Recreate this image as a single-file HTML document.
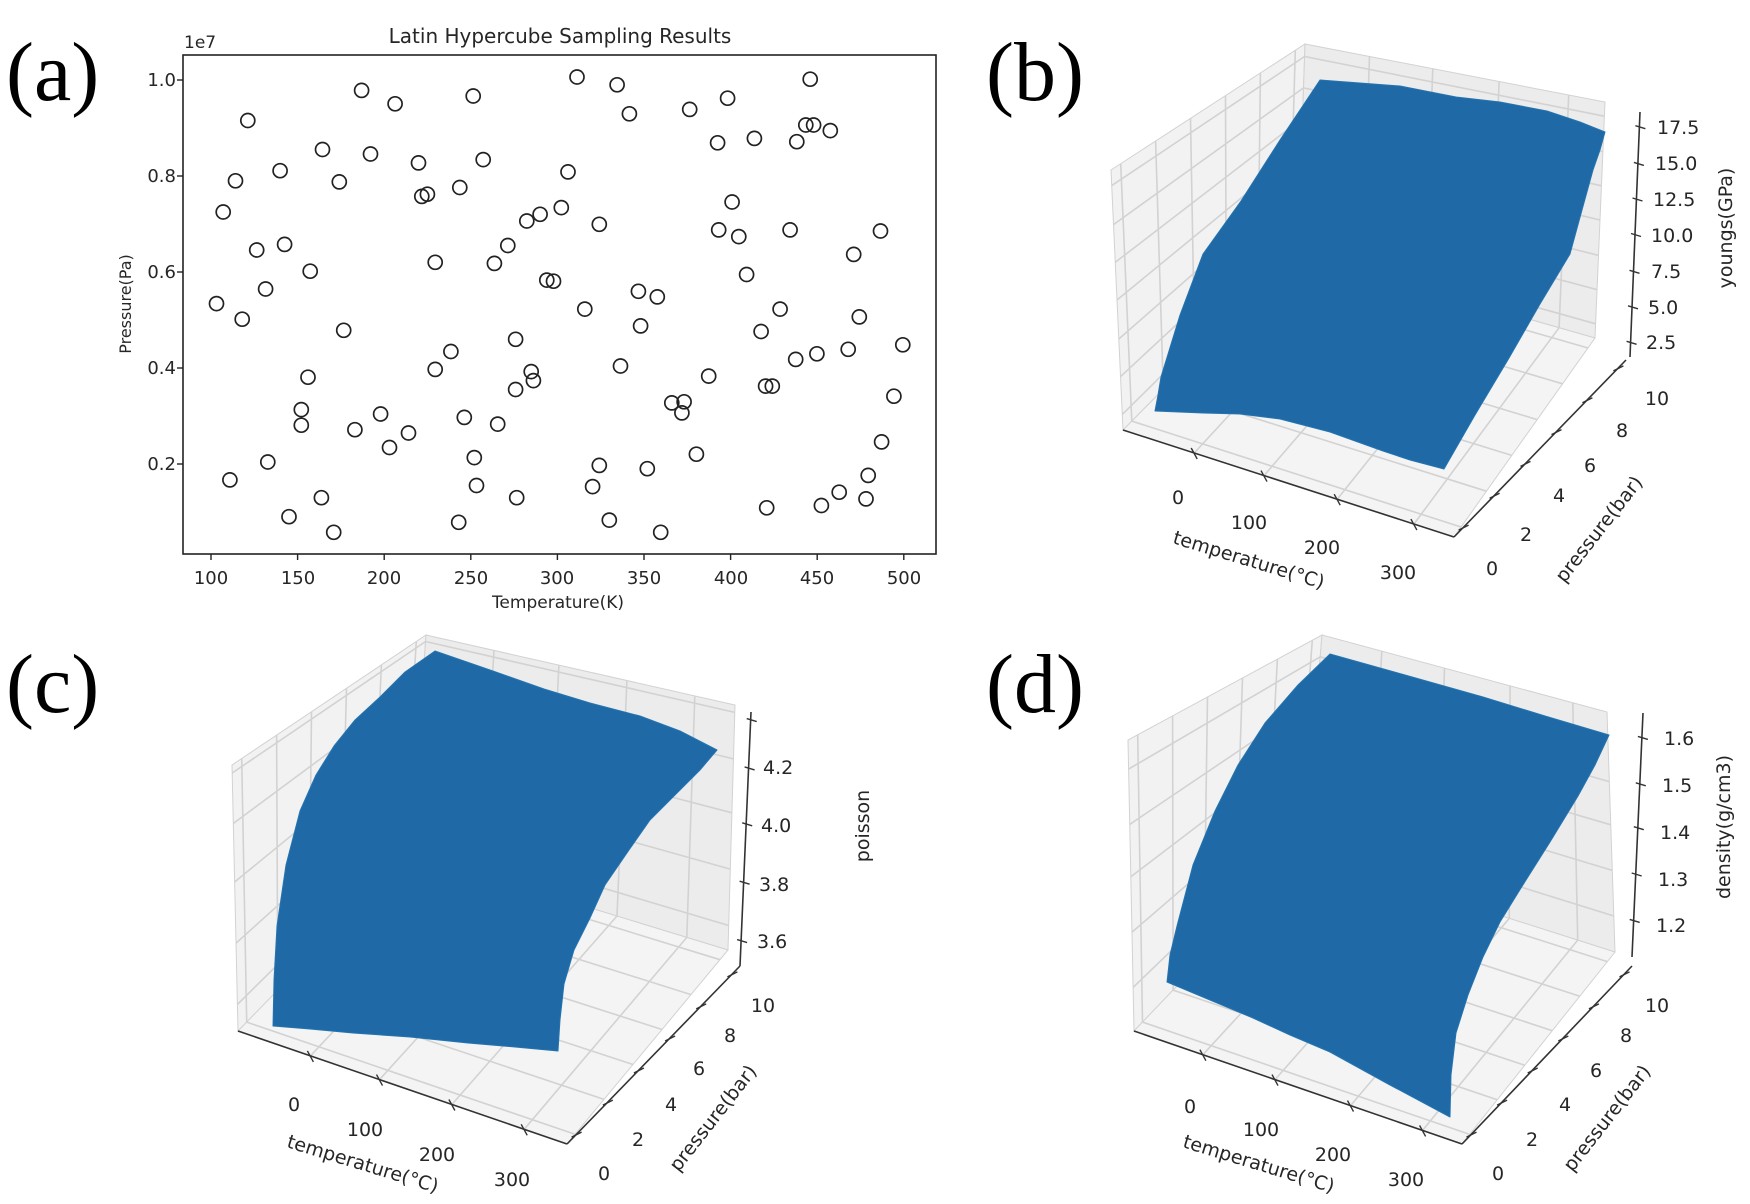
<!DOCTYPE html>
<html><head><meta charset="utf-8"><style>
html,body{margin:0;padding:0;background:#fff;}
svg{display:block;}
.t{font-family:"DejaVu Sans","Liberation Sans",sans-serif;fill:#262626;}
.p{font-family:"Liberation Serif",serif;fill:#000;font-size:84px;}
</style></head><body>
<svg id="s" xmlns="http://www.w3.org/2000/svg" width="1750" height="1204" viewBox="0 0 1750 1204">
<rect width="1750" height="1204" fill="#fff"/>
<g id="shapes"></g>
<text class="p" x="6" y="100">(a)</text>
<text class="p" x="986" y="100">(b)</text>
<text class="p" x="6" y="712">(c)</text>
<text class="p" x="986" y="712">(d)</text>
<text class="t" x="560" y="43" font-size="20" text-anchor="middle">Latin Hypercube Sampling Results</text>
<text class="t" x="184" y="48" font-size="17">1e7</text>
<g class="t" font-size="18" text-anchor="end">
<text x="176" y="86">1.0</text><text x="176" y="182">0.8</text><text x="176" y="278">0.6</text><text x="176" y="374">0.4</text><text x="176" y="470">0.2</text>
</g>
<g class="t" font-size="18" text-anchor="middle">
<text x="211" y="584">100</text><text x="298" y="584">150</text><text x="384" y="584">200</text><text x="471" y="584">250</text><text x="557" y="584">300</text><text x="644" y="584">350</text><text x="731" y="584">400</text><text x="817" y="584">450</text><text x="904" y="584">500</text>
</g>
<text class="t" x="558" y="608" font-size="17" text-anchor="middle">Temperature(K)</text>
<text class="t" font-size="16" text-anchor="middle" transform="translate(131,304) rotate(-90)">Pressure(Pa)</text>
<g class="t" font-size="19">
<text x="1657" y="134">17.5</text><text x="1655" y="170">15.0</text><text x="1653" y="206">12.5</text><text x="1651" y="242">10.0</text><text x="1651" y="278">7.5</text><text x="1648" y="314">5.0</text><text x="1646" y="349">2.5</text>
</g>
<text class="t" font-size="19" text-anchor="middle" transform="translate(1732,228) rotate(-90)">youngs(GPa)</text>
<g class="t" font-size="19" text-anchor="middle">
<text x="1178" y="504">0</text><text x="1249" y="529">100</text><text x="1322" y="554">200</text><text x="1398" y="579">300</text>
<text x="1492" y="575">0</text><text x="1526" y="541">2</text><text x="1559" y="502">4</text><text x="1590" y="472">6</text><text x="1622" y="437">8</text><text x="1657" y="405">10</text>
</g>
<text class="t" font-size="19" text-anchor="middle" transform="translate(1247,566) rotate(17)">temperature(°C)</text>
<text class="t" font-size="19" text-anchor="middle" transform="translate(1604,533) rotate(-52)">pressure(bar)</text>
<g class="t" font-size="19">
<text x="763" y="774">4.2</text><text x="761" y="832">4.0</text><text x="759" y="891">3.8</text><text x="757" y="948">3.6</text>
</g>
<text class="t" font-size="19" text-anchor="middle" transform="translate(869,826) rotate(-90)">poisson</text>
<g class="t" font-size="19" text-anchor="middle">
<text x="294" y="1111">0</text><text x="365" y="1136">100</text><text x="437" y="1161">200</text><text x="512" y="1186">300</text>
<text x="604" y="1180">0</text><text x="638" y="1146">2</text><text x="671" y="1111">4</text><text x="699" y="1075">6</text><text x="730" y="1042">8</text><text x="763" y="1012">10</text>
</g>
<text class="t" font-size="19" text-anchor="middle" transform="translate(361,1170) rotate(17)">temperature(°C)</text>
<text class="t" font-size="19" text-anchor="middle" transform="translate(718,1122) rotate(-52)">pressure(bar)</text>
<g class="t" font-size="19">
<text x="1664" y="745">1.6</text><text x="1662" y="792">1.5</text><text x="1660" y="839">1.4</text><text x="1658" y="886">1.3</text><text x="1656" y="932">1.2</text>
</g>
<text class="t" font-size="19" text-anchor="middle" transform="translate(1730,827) rotate(-90)">density(g/cm3)</text>
<g class="t" font-size="19" text-anchor="middle">
<text x="1190" y="1113">0</text><text x="1261" y="1136">100</text><text x="1333" y="1161">200</text><text x="1406" y="1186">300</text>
<text x="1498" y="1180">0</text><text x="1532" y="1146">2</text><text x="1565" y="1111">4</text><text x="1596" y="1077">6</text><text x="1626" y="1042">8</text><text x="1657" y="1012">10</text>
</g>
<text class="t" font-size="19" text-anchor="middle" transform="translate(1257,1170) rotate(17)">temperature(°C)</text>
<text class="t" font-size="19" text-anchor="middle" transform="translate(1612,1122) rotate(-52)">pressure(bar)</text>
</svg>
<script>
var NS="http://www.w3.org/2000/svg",G=document.getElementById("shapes");
function el(n,a){var e=document.createElementNS(NS,n);for(var k in a)e.setAttribute(k,a[k]);G.appendChild(e);return e;}
function pts(a){return a.map(function(p){return p[0]+","+p[1];}).join(" ");}
el("rect",{x:183,y:55,width:753,height:499,fill:"none",stroke:"#222","stroke-width":1.6});
[[80,1.0],[176,.8],[272,.6],[368,.4],[464,.2]].forEach(function(t){el("line",{x1:177,y1:t[0],x2:183,y2:t[0],stroke:"#222","stroke-width":1.4});});
for(var i=0;i<9;i++){var x=211+i*86.6;el("line",{x1:x,y1:554,x2:x,y2:560,stroke:"#222","stroke-width":1.4});}
var P=[[222,108],[211,162],[200,190],[194,272],[217,286],[230,224],[238,259],[251,153],[255,219],[289,134],[304,163],[278,243],[308,296],[324,81],[332,138],[354,93],[375,146],[378,176],[383,174],[390,235],[412,168],[424,86],[433,143],[443,236],[455,220],[462,304],[472,198],[484,192],[503,186],[509,154],[517,69],[537,201],[553,76],[564,102],[618,98],[643,128],[652,88],[676,124],[714,127],[722,112],[729,112],[726,71],[744,117],[656,181],[644,206],[662,212],[669,246],[708,206],[765,228],[789,207],[732,317],[699,277],[686,346],[682,297],[572,261],[589,266],[496,252],[490,251],[524,277],[574,292],[556,328],[476,333],[462,349],[478,341],[404,315],[390,331],[341,371],[276,338],[416,374],[446,380],[425,410],[366,388],[349,401],[318,385],[270,367],[270,381],[240,414],[206,430],[259,463],[288,446],[299,477],[411,468],[427,435],[463,446],[531,436],[537,417],[546,466],[580,420],[602,361],[611,370],[613,360],[624,407],[635,337],[592,477],[687,455],[736,453],[752,441],[776,447],[778,426],[790,396],[801,355],[809,309],[770,284],[760,313],[713,322],[692,346]];
P.forEach(function(p){el("circle",{cx:(p[0]*1.116).toFixed(1),cy:(p[1]*1.116).toFixed(1),r:7,fill:"none",stroke:"#222","stroke-width":1.7});});
function lerp(a,b,t){return [a[0]+(b[0]-a[0])*t,a[1]+(b[1]-a[1])*t];}
function panel(c){
 function Q(t,p,z){var b0=lerp(lerp(c.L,c.F,t),lerp(c.B,c.R,t),p);var b1=lerp(lerp(c.Lt,c.Ft,t),lerp(c.Bt,c.Rt,t),p);return lerp(b0,b1,z);}
 var fill="#f2f2f2",gs="#d2d2d2";
 el("polygon",{points:pts([c.L,c.B,c.Bt,c.Lt]),fill:fill,stroke:gs,"stroke-width":1});
 el("polygon",{points:pts([c.B,c.R,c.Rt,c.Bt]),fill:"#ececec",stroke:gs,"stroke-width":1});
 el("polygon",{points:pts([c.L,c.F,c.R,c.B]),fill:"#f4f4f4",stroke:gs,"stroke-width":1});
 function ln(a,b,col,w){el("line",{x1:a[0].toFixed(1),y1:a[1].toFixed(1),x2:b[0].toFixed(1),y2:b[1].toFixed(1),stroke:col,"stroke-width":w});}
 c.tt.forEach(function(t){ln(Q(t,0,0),Q(t,1,0),gs,1.6);ln(Q(t,1,0),Q(t,1,1),gs,1.6);});
 c.pt.forEach(function(p){ln(Q(0,p,0),Q(1,p,0),gs,1.6);ln(Q(0,p,0),Q(0,p,1),gs,1.6);});
 c.zt.forEach(function(z){ln(Q(0,0,z),Q(0,1,z),gs,1.6);ln(Q(0,1,z),Q(1,1,z),gs,1.6);});
 ln(c.ax1[0],c.ax1[1],"#333",1.6);ln(c.ax2[0],c.ax2[1],"#333",1.6);ln(c.az[0],c.az[1],"#333",1.6);
 c.tt.forEach(function(t){var a=lerp(c.ax1[0],c.ax1[1],t);ln([a[0]-3,a[1]-5],[a[0]+3,a[1]+6],"#333",1.4);});
 c.pt.forEach(function(p){var a=lerp(c.ax2[0],c.ax2[1],p);ln([a[0]-4,a[1]+2],[a[0]+6,a[1]-3],"#333",1.4);});
 c.zt.forEach(function(z){var a=lerp(c.az[0],c.az[1],z);ln([a[0]-4,a[1]-1],[a[0]+6,a[1]+2],"#333",1.4);});
 el("polygon",{points:pts(c.S),fill:"#1f6aa6",stroke:"#2474b0","stroke-width":1,"stroke-linejoin":"round"});
}
var pt6=[.05,.23,.41,.59,.77,.95];
panel({L:[1123,430],F:[1454,537],R:[1595,338],B:[1298,253],Lt:[1111,170],Ft:[1460,290],Rt:[1605,102],Bt:[1305,44],
 tt:[.215,.426,.647,.879],pt:pt6,zt:[.06,.205,.35,.5,.645,.79,.94],
 ax1:[[1123,430],[1454,537]],ax2:[[1454,537],[1626,360]],az:[[1630,357],[1640,112]],
 S:[[1320,80],[1400,86],[1456,97],[1500,102],[1547,111],[1580,122],[1605,132],[1600,150],[1593,170],[1582,210],[1570,254],[1540,304],[1509,358],[1475,415],[1444,469],[1410,460],[1383,451],[1330,432],[1280,419],[1240,414],[1203,413],[1155,411],[1158,395],[1161,377],[1180,315],[1203,254],[1241,201],[1280,140],[1300,110]]});
panel({L:[238,1031],F:[567,1144],R:[728,950],B:[411,853],Lt:[232,765],Ft:[572,880],Rt:[735,705],Bt:[426,635],
 tt:[.22,.43,.65,.87],pt:pt6,zt:[.1,.33,.56,.78,.97],
 ax1:[[238,1031],[567,1144]],ax2:[[567,1144],[740,966]],az:[[740,966],[751,712]],
 S:[[435,651],[490,670],[544,689],[590,703],[640,716],[680,731],[717,750],[700,770],[678,792],[650,820],[629,850],[605,885],[590,918],[574,950],[564,984],[560,1020],[558,1051],[515,1047],[468,1043],[410,1037],[353,1033],[310,1029],[273,1026],[274,980],[277,926],[286,865],[300,811],[316,775],[334,746],[355,720],[380,697],[405,672]]});
panel({L:[1134,1031],F:[1462,1144],R:[1615,952],B:[1304,853],Lt:[1128,740],Ft:[1466,880],Rt:[1607,712],Bt:[1322,635],
 tt:[.21,.43,.66,.88],pt:pt6,zt:[.15,.34,.53,.71,.9],
 ax1:[[1134,1031],[1462,1144]],ax2:[[1462,1144],[1632,966]],az:[[1632,957],[1643,713]],
 S:[[1330,654],[1405,675],[1483,697],[1545,716],[1609,735],[1595,765],[1578,796],[1550,842],[1521,888],[1500,922],[1483,957],[1468,995],[1456,1033],[1451,1075],[1450,1117],[1390,1085],[1330,1052],[1290,1035],[1253,1018],[1210,1000],[1167,982],[1170,955],[1177,926],[1193,865],[1215,811],[1238,765],[1265,723],[1298,685]]});
</script>
</body></html>
